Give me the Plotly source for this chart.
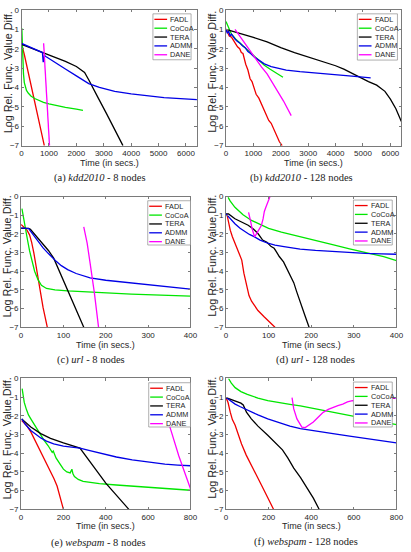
import plotly.graph_objects as go

W, H = 411, 552

METHODS = ["FADL", "CoCoA", "TERA", "ADMM", "DANE"]
COLORS = ["#f00000", "#00e600", "#000000", "#0000e6", "#ff00ff"]

# ---------------- (a) kdd2010 - 8 nodes ----------------
A_FADL_T = [0, 100, 830]
A_FADL_Y = [-1.75, -2.3, -7.0]
A_COCOA_T = [10, 25, 45, 70, 100, 140, 180, 250, 350, 500, 800, 1000, 1300, 1600, 2000, 2240]
A_COCOA_Y = [-0.95, -1.8, -2.8, -3.3, -3.75, -4.0, -4.15, -4.3, -4.45, -4.58, -4.77, -4.85, -4.95, -5.03, -5.12, -5.18]
A_TERA_T = [0, 400, 800, 1200, 1600, 2000, 2300, 2450, 2550, 2800, 3100, 3400, 3700]
A_TERA_Y = [-1.78, -2.0, -2.25, -2.45, -2.65, -2.92, -3.22, -3.6, -3.85, -4.55, -5.35, -6.15, -7.0]
A_ADMM_T = [0, 300, 600, 760, 790, 830, 900, 1200, 1600, 2000, 2450, 2840, 3400, 4000, 4600, 5200, 5800, 6400]
A_ADMM_Y = [-1.73, -1.92, -2.12, -2.2, -2.7, -2.35, -2.42, -2.7, -3.05, -3.4, -3.8, -4.0, -4.2, -4.33, -4.43, -4.52, -4.58, -4.63]
A_DANE_T = [805, 900, 1020]
A_DANE_Y = [-1.72, -4.05, -7.0]

# ---------------- (b) kdd2010 - 128 nodes ----------------
B_FADL_T = [0, 60, 120, 200, 280, 350, 420, 500, 560, 620, 680, 720, 800, 880, 950, 1020, 1100, 1200,
            1280, 1380, 1480, 1560, 1650, 1750, 1850, 1950, 2050]
B_FADL_Y = [-1.0, -1.15, -1.35, -1.4, -1.6, -1.7, -1.9, -2.0, -2.2, -2.25, -2.6, -2.8, -3.1, -3.55, -3.7,
            -4.0, -4.35, -4.55, -4.8, -5.2, -5.45, -5.7, -5.85, -6.15, -6.45, -6.8, -7.0]
B_COCOA_T = [0, 100, 200, 350, 500, 700, 850, 1000, 1200, 1400, 1600, 1800, 2000, 2080]
B_COCOA_Y = [-0.6, -0.95, -1.25, -1.5, -1.7, -1.95, -2.15, -2.35, -2.6, -2.85, -3.05, -3.22, -3.38, -3.47]
B_TERA_T = [0, 500, 1000, 1500, 2000, 2500, 3000, 3500, 4000, 4300, 4600, 4900, 5200, 5500, 5800,
            6000, 6200, 6400]
B_TERA_Y = [-1.0, -1.2, -1.42, -1.65, -1.95, -2.2, -2.42, -2.62, -2.88, -3.05, -3.27, -3.48, -3.7,
            -3.88, -4.2, -4.6, -5.1, -5.75]
B_ADMM_T = [0, 50, 100, 150, 200, 260, 330, 400, 500, 600, 700, 800, 900, 1050, 1200, 1400, 1650,
            1900, 2200, 2700, 3200, 3700, 4200, 4700, 5280]
B_ADMM_Y = [-1.0, -1.2, -1.1, -1.35, -1.25, -1.4, -1.5, -1.6, -1.7, -1.85, -1.95, -2.15, -2.25, -2.45,
            -2.6, -2.78, -2.92, -3.02, -3.1, -3.18, -3.25, -3.3, -3.37, -3.43, -3.5]
B_DANE_T = [330, 500, 700, 900, 1100, 1300, 1500, 1700, 1900, 2100, 2380]
B_DANE_Y = [-1.0, -1.35, -1.75, -2.15, -2.55, -2.95, -3.3, -3.75, -4.2, -4.7, -5.45]

# ---------------- (c) url - 8 nodes ----------------
C_FADL_T = [0, 8, 14, 20, 25, 30, 35, 40, 45, 52, 62]
C_FADL_Y = [-1.5, -1.65, -1.8, -2.05, -2.45, -3.0, -3.7, -4.35, -5.0, -5.95, -7.0]
C_COCOA_T = [2, 6, 10, 15, 20, 26, 32, 40, 48, 60, 80, 110, 150, 200, 260, 330, 400]
C_COCOA_Y = [-0.65, -1.1, -1.6, -2.3, -2.9, -3.5, -4.0, -4.45, -4.75, -4.92, -5.0, -5.05, -5.1, -5.15,
             -5.22, -5.28, -5.33]
C_TERA_T = [0, 18, 22, 35, 50, 65, 77, 100, 125, 148]
C_TERA_Y = [-1.7, -1.7, -1.75, -2.1, -2.5, -2.9, -3.3, -4.5, -5.8, -7.0]
C_ADMM_T = [0, 18, 24, 32, 41, 52, 64, 75, 83, 95, 110, 130, 163, 200, 250, 300, 350, 400]
C_ADMM_Y = [-1.68, -1.72, -1.9, -2.15, -2.42, -2.75, -3.04, -3.3, -3.47, -3.7, -3.91, -4.12, -4.35,
            -4.48, -4.6, -4.7, -4.82, -4.96]
C_DANE_T = [148, 156, 163, 173, 183]
C_DANE_Y = [-1.63, -2.5, -3.56, -5.14, -7.0]

# ---------------- (d) url - 128 nodes ----------------
D_FADL_T = [2, 6, 10, 15, 21, 28, 37, 42, 48, 54, 60, 68, 75, 90, 105, 115]
D_FADL_Y = [-0.93, -1.4, -1.8, -2.15, -2.5, -2.95, -3.4, -4.1, -4.8, -5.3, -5.6, -5.85, -6.1, -6.45,
            -6.8, -7.0]
D_COCOA_T = [5, 10, 21, 40, 60, 80, 100, 130, 175, 220, 250, 290, 330, 370, 400]
D_COCOA_Y = [-0.05, -0.25, -0.58, -0.98, -1.28, -1.5, -1.7, -1.9, -2.17, -2.42, -2.58, -2.8, -3.0,
             -3.22, -3.43]
D_TERA_T = [0, 6, 21, 40, 52, 65, 75, 86, 96, 106, 113, 118, 125, 135, 144, 152, 159, 166, 174, 185, 195]
D_TERA_Y = [-0.93, -0.93, -1.19, -1.4, -1.54, -1.75, -1.98, -2.33, -2.45, -2.68, -2.77, -2.95, -3.21,
            -3.5, -3.91, -4.25, -4.61, -5.1, -5.67, -6.35, -7.0]
D_ADMM_T = [0, 10, 21, 33, 44, 55, 67, 80, 98, 115, 136, 155, 174, 210, 251, 290, 327, 365, 400]
D_ADMM_Y = [-0.93, -1.2, -1.46, -1.7, -1.89, -2.03, -2.16, -2.33, -2.5, -2.6, -2.68, -2.75, -2.81,
            -2.88, -2.95, -3.0, -3.04, -3.07, -3.09]
D_DANE_T = [53, 56, 58, 61, 64, 67, 70, 73, 78, 83, 87, 90, 94, 98, 102, 105]
D_DANE_Y = [-0.85, -1.1, -1.35, -1.7, -1.98, -2.15, -2.05, -1.95, -1.75, -1.55, -1.2, -0.8, -0.55,
            -0.35, -0.1, 0.1]

# ---------------- (e) webspam - 8 nodes ----------------
E_FADL_T = [3, 25, 46, 70, 93, 115, 139, 155, 170, 185, 200]
E_FADL_Y = [-2.25, -2.5, -2.86, -3.4, -3.91, -4.45, -4.96, -5.35, -5.75, -6.35, -7.0]
E_COCOA_T = [5, 10, 15, 25, 35, 46, 60, 77, 92, 108, 128, 147, 152, 158, 165, 185, 200, 216, 232, 240,
             245, 252, 270, 293, 330, 370, 450, 525, 600, 679, 740, 800]
E_COCOA_Y = [-0.54, -0.95, -1.28, -1.65, -1.95, -2.16, -2.42, -2.68, -3.0, -3.3, -3.6, -3.95, -3.88,
             -4.05, -4.25, -4.6, -4.85, -5.0, -5.05, -4.85, -5.1, -5.25, -5.4, -5.5, -5.57, -5.63,
             -5.7, -5.76, -5.82, -5.89, -5.94, -5.98]
E_TERA_T = [3, 46, 93, 139, 200, 240, 278, 400, 509]
E_TERA_Y = [-2.16, -2.6, -2.95, -3.2, -3.45, -3.6, -3.72, -5.6, -7.0]
E_ADMM_T = [3, 20, 46, 70, 93, 120, 154, 200, 240, 278, 320, 370, 450, 525, 600, 679, 740, 800]
E_ADMM_Y = [-2.16, -2.45, -2.78, -3.0, -3.18, -3.35, -3.5, -3.62, -3.68, -3.73, -3.85, -4.0, -4.2,
            -4.35, -4.48, -4.58, -4.63, -4.67]
E_DANE_T = [685, 703, 745, 800]
E_DANE_Y = [-2.0, -2.6, -4.15, -5.9]

# ---------------- (f) webspam - 128 nodes ----------------
F_FADL_T = [0, 10, 20, 30, 43, 58, 73, 95, 119, 142, 165, 195, 223]
F_FADL_Y = [-1.02, -1.3, -1.8, -2.2, -2.5, -3.0, -3.5, -4.1, -4.61, -5.15, -5.67, -6.35, -7.0]
F_COCOA_T = [12, 25, 43, 70, 100, 119, 150, 196, 250, 300, 349, 420, 502, 580, 654, 730, 800]
F_COCOA_Y = [0.0, -0.25, -0.49, -0.7, -0.85, -0.93, -1.05, -1.19, -1.3, -1.38, -1.46, -1.62, -1.81,
             -2.0, -2.16, -2.33, -2.47]
F_TERA_T = [0, 43, 70, 81, 96, 119, 150, 196, 230, 265, 290, 318, 350, 379, 410, 437]
F_TERA_Y = [-1.02, -1.19, -1.32, -1.42, -1.8, -2.16, -2.55, -3.04, -3.45, -3.82, -4.25, -4.79, -5.3,
            -5.84, -6.4, -7.0]
F_ADMM_T = [0, 20, 43, 65, 89, 120, 150, 196, 250, 300, 349, 420, 502, 580, 654, 730, 800]
F_ADMM_Y = [-1.02, -1.2, -1.37, -1.5, -1.63, -1.8, -1.95, -2.16, -2.38, -2.55, -2.68, -2.82, -2.95,
            -3.08, -3.21, -3.33, -3.44]
F_DANE_T = [310, 318, 333, 348, 356, 372, 390, 410, 430, 456, 480, 502, 525, 548, 570, 593, 650, 700,
            760, 800]
F_DANE_Y = [-1.02, -1.63, -2.16, -2.5, -2.6, -2.63, -2.5, -2.33, -2.1, -1.81, -1.65, -1.54, -1.45,
            -1.37, -1.25, -1.19, -1.1, -1.1, -1.08, -1.05]

# ticks
XT_KDD = [0, 1000, 2000, 3000, 4000, 5000, 6000]
XT_URL = [0, 100, 200, 300, 400]
XT_WEB = [0, 200, 400, 600, 800]
YT = [0, -1, -2, -3, -4, -5, -6, -7]
XMAX = [6400, 6400, 400, 400, 800, 800]

CAPTIONS = ["(a) <i>kdd2010</i> - 8 nodes", "(b) <i>kdd2010</i> - 128 nodes",
            "(c) <i>url</i> - 8 nodes", "(d) <i>url</i> - 128 nodes",
            "(e) <i>webspam</i> - 8 nodes", "(f) <i>webspam</i> - 128 nodes"]

SERIES = [
    [(A_FADL_T, A_FADL_Y), (A_COCOA_T, A_COCOA_Y), (A_TERA_T, A_TERA_Y), (A_ADMM_T, A_ADMM_Y), (A_DANE_T, A_DANE_Y)],
    [(B_FADL_T, B_FADL_Y), (B_COCOA_T, B_COCOA_Y), (B_TERA_T, B_TERA_Y), (B_ADMM_T, B_ADMM_Y), (B_DANE_T, B_DANE_Y)],
    [(C_FADL_T, C_FADL_Y), (C_COCOA_T, C_COCOA_Y), (C_TERA_T, C_TERA_Y), (C_ADMM_T, C_ADMM_Y), (C_DANE_T, C_DANE_Y)],
    [(D_FADL_T, D_FADL_Y), (D_COCOA_T, D_COCOA_Y), (D_TERA_T, D_TERA_Y), (D_ADMM_T, D_ADMM_Y), (D_DANE_T, D_DANE_Y)],
    [(E_FADL_T, E_FADL_Y), (E_COCOA_T, E_COCOA_Y), (E_TERA_T, E_TERA_Y), (E_ADMM_T, E_ADMM_Y), (E_DANE_T, E_DANE_Y)],
    [(F_FADL_T, F_FADL_Y), (F_COCOA_T, F_COCOA_Y), (F_TERA_T, F_TERA_Y), (F_ADMM_T, F_ADMM_Y), (F_DANE_T, F_DANE_Y)],
]
XTICKS = [XT_KDD, XT_KDD, XT_URL, XT_URL, XT_WEB, XT_WEB]

# ---------- layout geometry (pixels) ----------
BOXES = [(20, 199.3, 6, 144), (229, 408.3, 6, 144),
         (19.5, 192.7, 195.7, 328.7), (229, 403.3, 195.7, 328.7),
         (19.5, 192.7, 380.7, 513.7), (229, 403.3, 380.7, 513.7)]
LEG = [(154.3, 10, 39, 46.7), (363.3, 10, 41, 47),
       (149, 200, 43.7, 45), (359.3, 199.3, 39.7, 45.7),
       (150, 385, 42.7, 45), (359.3, 384.3, 39.7, 45.7)]
CAP_POS = [(100, 177), (306.7, 176.7), (91, 362.3), (321, 362.3), (98.3, 547.7), (310.8, 547.3)]
YTITLE_X = [5.5, 214.5]
XTITLE_Y = [161.7, 346.7, 531]


def px(x):
    return x / W


def py(y):
    return 1 - y / H


SANS = "Liberation Sans, Arial, sans-serif"
SERIF = "Liberation Serif, Times New Roman, serif"
AXC = "#7a7a7a"
TXT = "#262626"

fig = go.Figure()
layout = dict(width=W, height=H, margin=dict(l=0, r=0, t=0, b=0),
              paper_bgcolor="white", plot_bgcolor="white", showlegend=False,
              font=dict(family=SANS, size=8, color=TXT))
shapes = []
annotations = []

for i in range(6):
    k = "" if i == 0 else str(i + 1)
    xa, ya = "x" + k, "y" + k
    l, r, t, b = BOXES[i]
    for j, (tt, yy) in enumerate(SERIES[i]):
        fig.add_trace(go.Scatter(x=tt, y=yy, mode="lines", name=METHODS[j],
                                 line=dict(color=COLORS[j], width=1.3),
                                 xaxis=xa, yaxis=ya, hoverinfo="skip"))
    common = dict(showline=True, linecolor=AXC, linewidth=0.9, mirror="allticks",
                  ticks="inside", ticklen=2.5, tickwidth=0.8, tickcolor=AXC,
                  showgrid=False, zeroline=False, tickfont=dict(size=8, color=TXT),
                  fixedrange=True)
    layout["xaxis" + k] = dict(domain=[px(l), px(r)], range=[0, XMAX[i]],
                               tickvals=XTICKS[i], anchor=ya, **common)
    layout["yaxis" + k] = dict(domain=[py(b), py(t)], range=[-7, 0], tickvals=YT,
                               anchor=xa, **common)

    # legend (manual, compact, opaque)
    L, T, LW, LH = LEG[i]
    shapes.append(dict(type="rect", xref="paper", yref="paper",
                       x0=px(L), x1=px(L + LW), y0=py(T + LH), y1=py(T),
                       fillcolor="white", opacity=1, line=dict(color="#8c8c8c", width=0.7),
                       layer="above"))
    for j, name in enumerate(METHODS):
        yc = T + 5.6 + j * 9.0
        shapes.append(dict(type="line", xref="paper", yref="paper",
                           x0=px(L + 1.5), x1=px(L + 14.5), y0=py(yc), y1=py(yc),
                           line=dict(color=COLORS[j], width=1.3), layer="above"))
        annotations.append(dict(text=name, xref="paper", yref="paper", x=px(L + 15.5), y=py(yc),
                                xanchor="left", yanchor="middle", showarrow=False,
                                font=dict(family=SANS, size=7.3, color=TXT)))

    annotations.append(dict(text="Time (in secs.)", xref="paper", yref="paper",
                            x=px((l + r) / 2), y=py(XTITLE_Y[i // 2]), xanchor="center",
                            yanchor="middle", showarrow=False,
                            font=dict(family=SANS, size=9, color=TXT)))
    annotations.append(dict(text="Log Rel. Func. Value Diff.", xref="paper", yref="paper",
                            x=px(YTITLE_X[i % 2]), y=py((t + b) / 2 - 6), xanchor="center",
                            yanchor="middle", textangle=-90, showarrow=False,
                            font=dict(family=SANS, size=10.8, color=TXT)))
    cx, cy = CAP_POS[i]
    annotations.append(dict(text=CAPTIONS[i], xref="paper", yref="paper", x=px(cx), y=py(cy),
                            xanchor="center", yanchor="middle", showarrow=False,
                            font=dict(family=SERIF, size=10.5, color="#1a1a1a")))

layout["shapes"] = shapes
layout["annotations"] = annotations
fig.update_layout(**layout)
fig.write_html("out.html")
